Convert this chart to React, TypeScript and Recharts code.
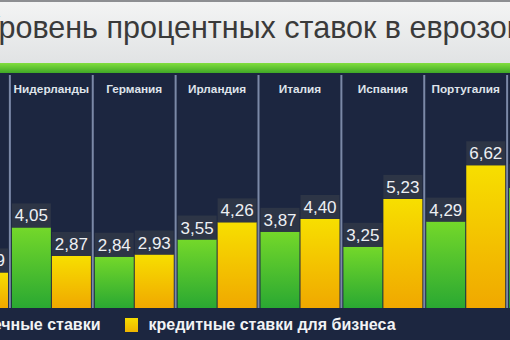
import React from 'react';
import { BarChart, Bar, XAxis, YAxis, ReferenceLine, LabelList, Legend } from 'recharts';

const title = 'Уровень процентных ставок в еврозоне';
const countries = ['', 'Нидерланды', 'Германия', 'Ирландия', 'Италия', 'Испания', 'Португалия', ''];
const mortgageRates: (number | null)[] = [null, 4.05, 2.84, 3.55, 3.87, 3.25, 4.29, 5.68];
const businessRates: (number | null)[] = [2.19, 2.87, 2.93, 4.26, 4.4, 5.23, 6.62, null];
const seriesNames = ['ипотечные ставки', 'кредитные ставки для бизнеса'];

const data = countries.map((name, i) => ({
  slot: i,
  name,
  mortgage: mortgageRates[i],
  business: businessRates[i],
}));

const FONT = '"Liberation Sans", Arial, sans-serif';

const CountryTick = (props: any) => {
  const { x, payload } = props;
  return (
    <text x={x} y={38} textAnchor="middle" fontFamily={FONT} fontWeight="bold" fontSize={11.8} fill="#dfe3ea">
      {countries[payload.value]}
    </text>
  );
};

const ValueTag = (props: any) => {
  const { x, y, width, value } = props;
  if (value == null) return null;
  return (
    <g>
      <rect x={x} y={y - 24} width={width} height={24} fill="#2d3546" />
      <text x={x + width / 2} y={y - 6} textAnchor="middle" fontFamily={FONT} fontSize={17} fill="#eef0f4">
        {Number(value).toFixed(2).replace('.', ',')}
      </text>
    </g>
  );
};

const legendColors = ['linear-gradient(#6fd62c,#33b02c)', 'linear-gradient(#f6dc00,#efb400)'];

const LegendContent = () => (
  <div style={{ display: 'flex', alignItems: 'center', fontFamily: FONT, fontWeight: 'bold', fontSize: 16, color: '#f2f3f5', whiteSpace: 'nowrap' }}>
    {seriesNames.map((n, i) => (
      <div key={i} style={{ display: 'flex', alignItems: 'center', marginRight: 25 }}>
        <span style={{ width: 13, height: 14, background: legendColors[i], marginRight: 10, display: 'inline-block' }} />
        {n}
      </div>
    ))}
  </div>
);

export default function App() {
  return (
    <div style={{ position: 'fixed', left: 0, top: 0, width: 510, height: 340, overflow: 'hidden', background: '#1c2640' }}>
      <div style={{ position: 'absolute', left: 0, top: 0, width: 510, height: 63, background: 'linear-gradient(#f3f4f4,#e1e3e4)', borderTop: '2px solid #8d8f92', boxSizing: 'border-box' }} />
      <svg style={{ position: 'absolute', left: 0, top: 0 }} width={510} height={63}>
        <text x={-19.5} y={38} fontSize={30.5} fontFamily={FONT} fill="#3a3a3a">{title}</text>
      </svg>
      <div style={{ position: 'absolute', left: 0, top: 63, width: 510, height: 10, background: 'linear-gradient(#82de3e,#3fa826)' }} />
      <div style={{ position: 'absolute', left: -73, top: 55 }}>
        <BarChart width={663} height={285} data={data} margin={{ top: 0, right: 0, bottom: 32, left: 0 }} barCategoryGap={2} barGap={1}>
          <defs>
            <linearGradient id="gGreen" x1="0" y1="0" x2="0" y2="1">
              <stop offset="0" stopColor="#74d82a" />
              <stop offset="1" stopColor="#2aa832" />
            </linearGradient>
            <linearGradient id="gYellow" x1="0" y1="0" x2="0" y2="1">
              <stop offset="0" stopColor="#f7df00" />
              <stop offset="1" stopColor="#f0a800" />
            </linearGradient>
          </defs>
          <XAxis dataKey="slot" type="category" orientation="top" height={20} axisLine={false} tickLine={false} tickSize={0} tickMargin={0} interval={0} tick={<CountryTick />} />
          <YAxis type="number" hide domain={[0.72, 10.35]} allowDataOverflow />
          {countries.slice(0, 7).map((_, i) => (
            <ReferenceLine key={i} x={i} position="end" stroke="#7b89a7" strokeWidth={2} />
          ))}
          <Bar dataKey="mortgage" name={seriesNames[0]} fill="url(#gGreen)" isAnimationActive={false}>
            <LabelList dataKey="mortgage" content={<ValueTag />} />
          </Bar>
          <Bar dataKey="business" name={seriesNames[1]} fill="url(#gYellow)" isAnimationActive={false}>
            <LabelList dataKey="business" content={<ValueTag />} />
          </Bar>
          <Legend layout="horizontal" verticalAlign="middle" align="center" content={<LegendContent />} wrapperStyle={{ left: 6, top: 261, width: 640 }} />
        </BarChart>
      </div>
    </div>
  );
}
